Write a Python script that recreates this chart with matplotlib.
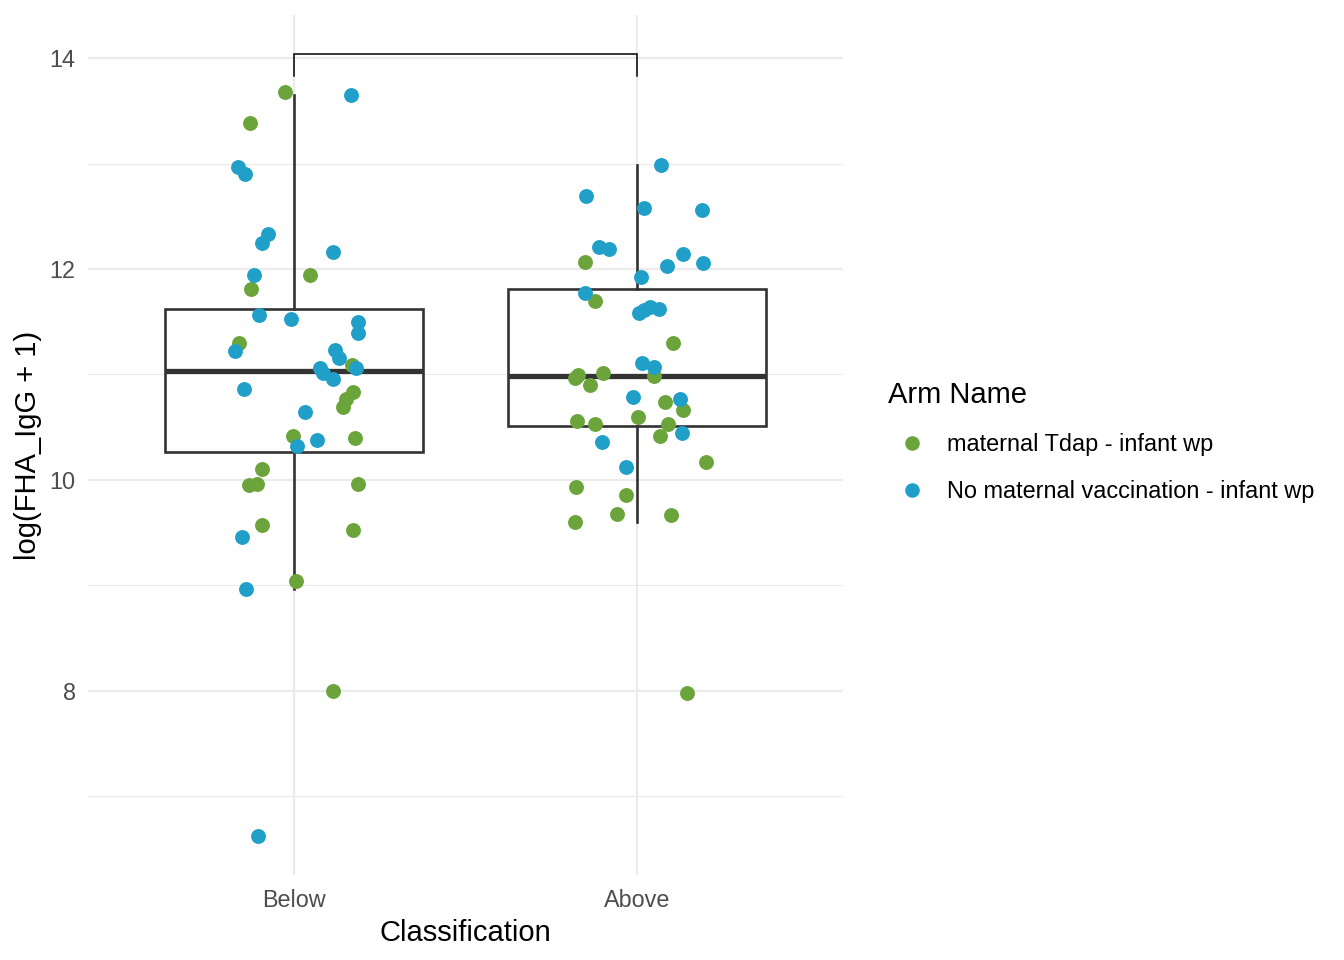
import numpy as np
import matplotlib
matplotlib.use("Agg")
import matplotlib.pyplot as plt
from matplotlib.lines import Line2D

plt.rcParams['font.family'] = ['Liberation Sans', 'DejaVu Sans']

# Classes on x axis
classes = ['Below', 'Above']
arm_names = ['maternal Tdap - infant wp', 'No maternal vaccination - infant wp']
arm_colors = ['#6BA43B', '#20A0C8']

# log(FHA_IgG + 1) values, with the jitter offset of each point
below_tdap = [13.68, 13.39, 11.94, 11.81, 11.30, 11.09, 10.83, 10.77, 10.69, 10.42,
              10.40, 10.10, 9.95, 9.96, 9.96, 9.57, 9.52, 9.04, 8.00]
below_tdap_jit = [-0.026, -0.128, 0.048, -0.125, -0.161, 0.170, 0.172, 0.152, 0.142, -0.002,
                  0.179, -0.093, -0.131, -0.108, 0.186, -0.092, 0.172, 0.005, 0.113]
below_none = [13.65, 12.97, 12.90, 12.33, 12.25, 12.16, 11.94, 11.56, 11.53, 11.50,
              11.39, 11.22, 11.23, 11.16, 11.06, 11.06, 11.01, 10.96, 10.86, 10.64,
              10.38, 10.32, 9.46, 8.96, 6.62]
below_none_jit = [0.166, -0.162, -0.142, -0.075, -0.093, 0.113, -0.117, -0.102, -0.009, 0.187,
                  0.187, -0.172, 0.119, 0.130, 0.182, 0.076, 0.085, 0.113, -0.145, 0.033,
                  0.066, 0.009, -0.152, -0.139, -0.105]
above_tdap = [12.07, 11.70, 11.30, 10.99, 10.97, 11.01, 10.98, 10.90, 10.74, 10.66,
              10.60, 10.56, 10.53, 10.53, 10.42, 10.17, 9.93, 9.86, 9.60, 9.68,
              9.67, 7.98]
above_tdap_jit = [-0.152, -0.122, 0.104, -0.171, -0.181, -0.098, 0.050, -0.138, 0.080, 0.134,
                  0.003, -0.175, -0.123, 0.090, 0.067, 0.201, -0.178, -0.032, -0.182, -0.059,
                  0.099, 0.146]
above_none = [12.99, 12.69, 12.58, 12.56, 12.21, 12.19, 12.14, 12.03, 12.06, 11.92,
              11.77, 11.58, 11.61, 11.64, 11.62, 11.11, 11.07, 10.79, 10.77, 10.44,
              10.36, 10.12]
above_none_jit = [0.069, -0.148, 0.020, 0.190, -0.110, -0.082, 0.135, 0.088, 0.193, 0.012,
                  -0.151, 0.005, 0.020, 0.038, 0.063, 0.015, 0.048, -0.011, 0.124, 0.130,
                  -0.102, -0.032]

# significance bracket height and tip length
bracket_y = 14.04
bracket_tip = 13.83

fig = plt.figure(figsize=(13.44, 9.6), dpi=100)
ax = fig.add_axes([88 / 1344, 1 - 875 / 960, (843 - 88) / 1344, (875 - 15) / 960])

# Boxplots (no outlier markers, points are jittered on top)
box_data = [below_tdap + below_none, above_tdap + above_none]
line_kw = dict(color='#333333', linewidth=1.9)
ax.boxplot(box_data, positions=[1, 2], widths=0.75, whis=1.5, showfliers=False,
           patch_artist=True,
           boxprops=dict(facecolor='white', edgecolor='#333333', linewidth=1.9),
           whiskerprops=line_kw, capprops=dict(linewidth=0),
           medianprops=dict(color='#333333', linewidth=3.8, solid_capstyle='butt'),
           zorder=2)

# Jittered points
groups = [
    (1, below_tdap, below_tdap_jit, 0),
    (1, below_none, below_none_jit, 1),
    (2, above_tdap, above_tdap_jit, 0),
    (2, above_none, above_none_jit, 1),
]
for pos, vals, jit, arm in groups:
    ax.scatter(pos + np.array(jit), vals, s=115, color=arm_colors[arm],
               linewidths=0, zorder=3)

# Significance bracket
ax.plot([1, 1, 2, 2], [bracket_tip, bracket_y, bracket_y, bracket_tip],
        color='black', linewidth=1.1, zorder=4, solid_joinstyle='miter')

# Axes, grid, ticks
ax.set_xlim(0.4, 2.6)
ax.set_ylim(6.25, 14.41)
ax.set_xticks([1, 2])
ax.set_xticklabels(classes)
ax.set_yticks([8, 10, 12, 14])
ax.set_yticks([7, 9, 11, 13], minor=True)
ax.grid(True, which='major', color='#EBEBEB', linewidth=1.6, zorder=0)
ax.grid(True, which='minor', axis='y', color='#EBEBEB', linewidth=0.8, zorder=0)
ax.set_axisbelow(True)
for sp in ax.spines.values():
    sp.set_visible(False)
ax.tick_params(axis='both', which='both', length=0, labelsize=16.8, labelcolor='#4D4D4D')
ax.tick_params(axis='x', pad=10)
ax.tick_params(axis='y', pad=9)
ax.set_xlabel('Classification', fontsize=21, labelpad=5)
ax.set_ylabel('log(FHA_IgG + 1)', fontsize=21, labelpad=5)

# Legend
handles = [Line2D([], [], marker='o', linestyle='none', markersize=10.5,
                  markerfacecolor=c, markeredgewidth=0) for c in arm_colors]
leg = ax.legend(handles, arm_names, title='Arm Name', loc='center left',
                bbox_to_anchor=(879 / 1344, 1 - 442 / 960), bbox_transform=fig.transFigure,
                frameon=False, fontsize=16.9, title_fontsize=21, alignment='left',
                handletextpad=0.5, labelspacing=1.02, borderaxespad=0)

fig.savefig('out.png', dpi=100, facecolor='white')
